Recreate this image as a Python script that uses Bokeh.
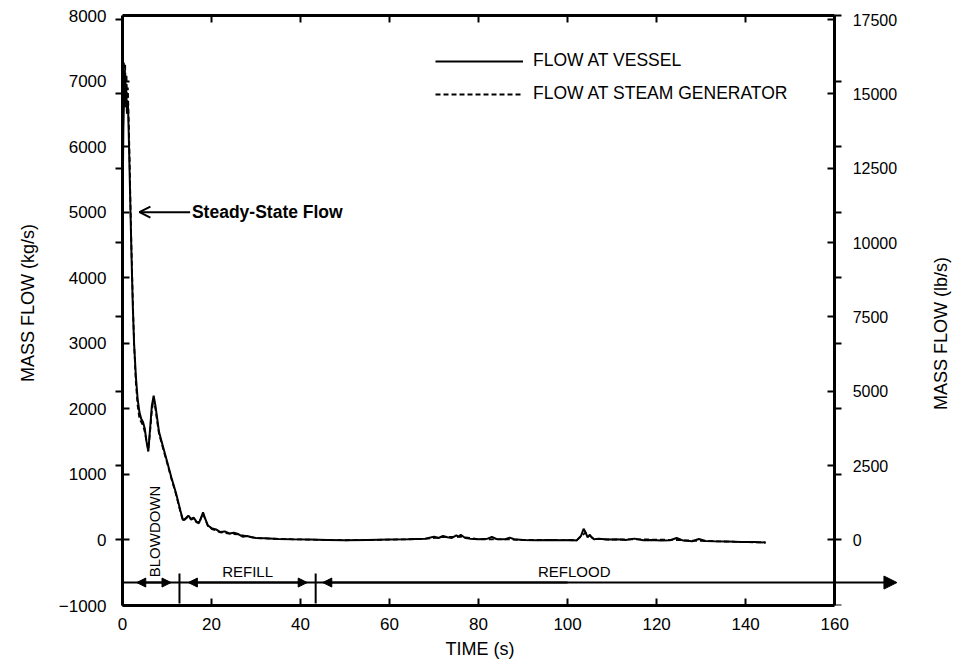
import math
from bokeh.plotting import figure
from bokeh.models import (Range1d, LinearAxis, FixedTicker, Arrow, NormalHead, OpenHead,
                          Legend, LegendItem, Label, Title)
from bokeh.embed import file_html
from bokeh.resources import INLINE

KG_TO_LB = 2.20462
FONT = "Liberation Sans"

# ---------------- data ----------------
time_vessel = [0, 0.2, 0.4, 0.6, 0.8, 1.0, 1.2, 1.4, 1.6, 1.8, 2.0, 2.3, 2.6, 3.0, 3.4, 3.8,
               4.2, 4.6, 5.0, 5.4, 5.8, 6.2, 6.6, 7.0, 7.4, 7.8, 8.2, 9.0, 10.0, 11.0, 12.0,
               13.0, 13.6, 14.2, 14.8, 15.4, 16.0, 16.6, 17.2, 17.7, 18.1, 18.6, 19.2, 20, 21,
               22, 23, 24, 25, 26, 27, 28, 29, 30, 32, 35, 38, 42, 46, 50, 55, 60, 64, 68, 70,
               71, 72, 73, 74, 75, 75.5, 76, 77, 78, 80, 82, 83, 84, 86, 87, 88, 90, 93, 96,
               99, 101, 102, 103, 103.6, 104, 104.5, 105, 105.5, 106, 107, 109, 111, 113, 115,
               117, 119, 121, 123, 124.5, 126, 128, 129.5, 131, 133, 136, 139, 142, 144.5]
flow_vessel = [5000, 6300, 6900, 6600, 6950, 6500, 6700, 6200, 5600, 5000, 4400, 3600, 3000,
               2500, 2150, 1950, 1850, 1800, 1700, 1500, 1350, 1700, 2050, 2200, 2050, 1850,
               1650, 1450, 1200, 950, 720, 450, 300, 330, 370, 320, 340, 280, 260, 350, 420,
               320, 220, 180, 160, 120, 130, 100, 110, 90, 50, 60, 40, 30, 25, 15, 10, 5, 0,
               -5, 0, 5, 10, 20, 50, 30, 60, 40, 30, 70, 50, 80, 30, 20, 10, 20, 45, 15, 10,
               35, 10, 0, -5, 0, -5, 0, -10, 60, 170, 120, 40, 80, 30, 10, 20, 5, 10, 0, 20,
               -5, 0, -10, -5, 30, -10, -20, 15, -15, -20, -25, -30, -30, -40]

time_sg = [0, 0.15, 0.3, 0.45, 0.6, 0.75, 0.9, 1.05, 1.2, 1.4, 1.6, 1.8, 2.0, 2.3, 2.6, 3.0,
           3.4, 3.8, 4.2, 4.6, 5.0, 5.4, 5.8, 6.2, 6.6, 7.0, 7.4, 7.8, 8.2, 9.0, 10.0, 11.0,
           12.0, 13.0, 13.6, 14.2, 14.8, 15.4, 16.0, 16.6, 17.2, 17.7, 18.1, 18.6, 19.2, 20,
           22, 24, 26, 28, 30, 35, 42, 50, 60, 68, 72, 76, 80, 86, 90, 96, 102, 104, 106,
           110, 116, 124, 130, 136, 144.5]
flow_sg = [5000, 6800, 7300, 6900, 7250, 6700, 7100, 6600, 6900, 6400, 5800, 5100, 4500, 3700,
           3000, 2400, 2050, 1850, 1800, 1750, 1650, 1500, 1380, 1650, 1980, 2150, 2000, 1800,
           1620, 1420, 1180, 930, 700, 430, 290, 320, 360, 310, 330, 270, 250, 340, 400, 310,
           210, 170, 115, 95, 85, 55, 30, 15, 5, -5, 5, 15, 45, 50, 10, 10, 0, 0, -5, 110,
           15, 5, 10, 0, -15, -25, -40]

x_ticks = [0, 20, 40, 60, 80, 100, 120, 140, 160]
kg_ticks = [-1000, 0, 1000, 2000, 3000, 4000, 5000, 6000, 7000, 8000]
lb_ticks = [0, 2500, 5000, 7500, 10000, 12500, 15000, 17500]

phase_bounds = [12.8, 43.4]
phase_names = ["BLOWDOWN", "REFILL", "REFLOOD"]

# ---------------- figure ----------------
X_AXIS_END = 160
X_VIEW_END = 187.6   # frame runs past the right axis so the phase arrow can extend
Y_MIN, Y_MAX = -1000, 8000
Y_VIEW_END = 8229    # a little head-room above the top axis for the tick labels
p = figure(width=957, height=672, output_backend="svg", toolbar_location=None,
           x_range=Range1d(0, X_VIEW_END), y_range=Range1d(Y_MIN, Y_VIEW_END),
           min_border_left=122, min_border_right=0, min_border_top=0,
           min_border_bottom=67)
p.extra_y_ranges = {"lb": Range1d(Y_MIN * KG_TO_LB, Y_VIEW_END * KG_TO_LB)}
p.xgrid.visible = False
p.ygrid.visible = False
p.outline_line_color = None
p.background_fill_color = "white"
p.border_fill_color = "white"


def style_axis(ax, tick_in=7, tick_out=0, minor_in=0, minor_out=0, size="17px"):
    ax.axis_line_width = 3
    ax.axis_line_color = "black"
    ax.major_tick_in = tick_in
    ax.major_tick_out = tick_out
    ax.minor_tick_in = minor_in
    ax.minor_tick_out = minor_out
    ax.major_tick_line_width = 2
    ax.minor_tick_line_width = 2
    ax.major_tick_line_color = "black"
    ax.minor_tick_line_color = "black"
    ax.major_label_text_font = FONT
    ax.major_label_text_font_size = size
    ax.major_label_text_color = "black"
    ax.axis_label_text_font = FONT
    ax.axis_label_text_font_size = "18px"
    ax.axis_label_text_font_style = "normal"
    ax.axis_label_text_color = "black"


# bottom axis
xb = p.xaxis[0]
xb.ticker = FixedTicker(ticks=x_ticks)
xb.bounds = (0, X_AXIS_END)
style_axis(xb)
xb.major_label_standoff = 12

# x-axis title, centred under the 0-160 axis rather than the wider frame
p.add_layout(Title(text="TIME (s)", align="left", offset=323, text_font=FONT,
                   text_font_size="18px", text_font_style="normal", text_color="black",
                   standoff=9), "below")

# left axis (kg/s), outward minor ticks at lb/s positions
yl = p.yaxis[0]
yl.ticker = FixedTicker(ticks=kg_ticks, minor_ticks=[v / KG_TO_LB for v in lb_ticks])
yl.bounds = (Y_MIN, Y_MAX)
style_axis(yl, minor_out=7)
yl.major_label_standoff = 9
yl.major_label_overrides = {-1000: "\u22121000"}
yl.axis_label = "MASS FLOW (kg/s)"
yl.axis_label_standoff = 18

# right axis (lb/s) drawn at t=160, outward minor ticks at kg/s positions
yr = LinearAxis(y_range_name="lb",
                ticker=FixedTicker(ticks=lb_ticks, minor_ticks=[v * KG_TO_LB for v in kg_ticks]))
style_axis(yr, minor_out=7, size="16px")
yr.bounds = (Y_MIN * KG_TO_LB, Y_MAX * KG_TO_LB)
yr.major_label_standoff = 11
yr.fixed_location = X_AXIS_END
p.add_layout(yr, "right")

# top axis (ticks only) drawn at 8000 kg/s
xt = LinearAxis(ticker=FixedTicker(ticks=x_ticks))
style_axis(xt, size="0px")
xt.bounds = (0, X_AXIS_END)
xt.fixed_location = Y_MAX
xt.major_label_standoff = 0
xt.major_label_text_alpha = 0
p.add_layout(xt, "above")

# right axis title placed as a label (reads bottom-to-top like the left one)
p.add_layout(Label(x=183.8, y=3150, text="MASS FLOW (lb/s)", angle=math.pi / 2,
                   text_font=FONT, text_font_size="18px", text_align="center",
                   text_baseline="middle", text_color="black"))

# ---------------- data lines ----------------
r_sg = p.line(time_sg, flow_sg, line_color="black", line_width=1.8, line_dash="5 3")
r_v = p.line(time_vessel, flow_vessel, line_color="black", line_width=2)

legend = Legend(items=[LegendItem(label="FLOW AT VESSEL", renderers=[r_v]),
                       LegendItem(label="FLOW AT STEAM GENERATOR", renderers=[r_sg])],
                location=(313, 501), glyph_width=88, glyph_height=20, label_height=20,
                spacing=12, padding=0, margin=0, border_line_color=None,
                background_fill_alpha=0, label_text_font=FONT,
                label_text_font_size="17.5px", label_text_color="black", label_standoff=10)
p.add_layout(legend)

# ---------------- steady-state annotation ----------------
p.add_layout(Arrow(end=OpenHead(size=11, line_width=2), x_start=15.2, y_start=5000,
                   x_end=3.8, y_end=5000, line_width=2))
p.add_layout(Label(x=15.6, y=5000, text="Steady-State Flow", text_font=FONT,
                   text_font_size="17.5px", text_font_style="bold", text_baseline="middle",
                   text_align="left", text_color="black"))

# ---------------- phase bar ----------------
PY = -650
p.add_layout(Arrow(end=NormalHead(size=13, fill_color="black", line_width=1),
                   x_start=0, y_start=PY, x_end=174, y_end=PY, line_width=2))
heads = [(6, 3.2), (6, 10.9), (28, 14.8), (28, 41.5), (100, 45.0)]
for xs, xe in heads:
    p.add_layout(Arrow(end=NormalHead(size=9, fill_color="black", line_width=1),
                       x_start=xs, y_start=PY, x_end=xe, y_end=PY, line_width=2))
p.segment(x0=phase_bounds, y0=[-510] * 2, x1=phase_bounds, y1=[-970] * 2,
          line_color="black", line_width=2)

p.add_layout(Label(x=7.1, y=130, text=phase_names[0], angle=math.pi / 2, text_font=FONT,
                   text_font_size="15px", text_align="center", text_baseline="middle",
                   text_color="black"))
p.add_layout(Label(x=28.1, y=-480, text=phase_names[1], text_font=FONT,
                   text_font_size="15px", text_align="center", text_baseline="middle",
                   text_color="black"))
p.add_layout(Label(x=101.5, y=-480, text=phase_names[2], text_font=FONT,
                   text_font_size="15px", text_align="center", text_baseline="middle",
                   text_color="black"))

open("out.html", "w").write(file_html(p, INLINE))
